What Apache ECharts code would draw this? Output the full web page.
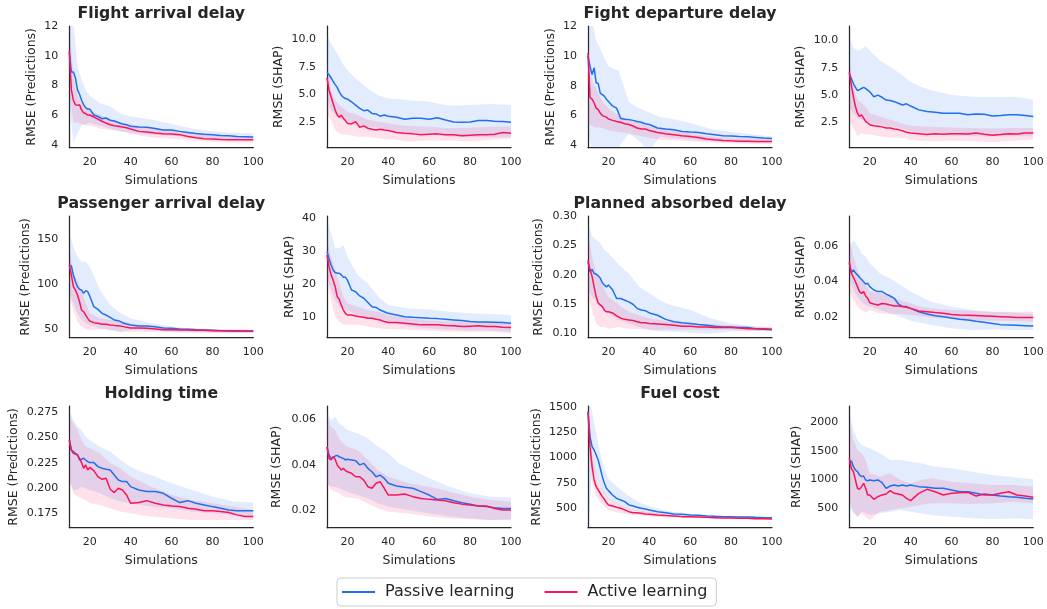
<!DOCTYPE html>
<html><head><meta charset="utf-8">
<script src="https://cdn.jsdelivr.net/npm/echarts@6/dist/echarts.min.js"></script>
<style>html,body{margin:0;padding:0;background:#fff}#c{width:1047px;height:609px}</style>
</head><body><div id="c"></div>
<script>
// ---------- data ----------
const sims = [10,11,12,13,14,15,16,17,18,19,20,22,24,26,28,30,32,34,36,38,40,44,48,52,56,60,64,68,72,76,80,84,88,92,96,100];
const bandSims = [10,12,14,16,18,20,25,30,35,40,45,50,60,70,80,90,100];
const xTicks = [20,40,60,80,100];

// Flight arrival delay - predictions
const faPredPassive = [10.3,8.9,8.9,8.5,7.7,7.4,7.0,6.7,6.5,6.4,6.4,6.0,5.9,5.75,5.8,5.65,5.6,5.5,5.4,5.35,5.25,5.2,5.17,5.1,5.0,5.0,4.9,4.83,4.75,4.7,4.68,4.63,4.6,4.56,4.54,4.52];
const faPredActive = [10.3,7.7,7.0,6.7,6.65,6.7,6.35,6.15,6.1,6.0,6.0,5.87,5.73,5.58,5.46,5.35,5.28,5.24,5.2,5.15,5.06,4.9,4.86,4.79,4.74,4.72,4.68,4.56,4.47,4.4,4.38,4.35,4.34,4.33,4.33,4.33];
const faPredPassiveHi = [13,12.2,9.3,8.4,7.7,7.3,6.8,6.6,6.1,5.9,5.8,5.7,5.4,5.1,4.9,4.8,4.75];
const faPredPassiveLo = [7,4.1,4.8,5.3,5.4,5.5,5.3,5.1,4.9,4.8,4.7,4.7,4.6,4.5,4.4,4.35,4.3];
const faPredActiveHi = [12.5,8.5,7.3,6.8,6.5,6.3,6.0,5.7,5.5,5.4,5.2,5.1,5.0,4.8,4.6,4.55,4.5];
const faPredActiveLo = [7.5,5.5,5.5,5.4,5.3,5.3,5.1,5.0,4.9,4.75,4.6,4.5,4.4,4.3,4.2,4.15,4.15];

// Flight arrival delay - SHAP
const faShapPassive = [7.0,6.8,6.5,6.2,5.9,5.65,5.25,4.95,4.75,4.65,4.6,4.35,4.05,3.75,3.55,3.6,3.3,3.25,3.05,3.15,3.05,2.95,2.77,2.86,2.86,2.77,2.9,2.7,2.53,2.5,2.53,2.65,2.65,2.6,2.56,2.5];
const faShapActive = [6.5,5.4,4.8,4.2,3.6,3.15,2.95,3.15,2.86,2.65,2.4,2.35,2.56,2.05,2.17,1.96,1.87,1.8,1.87,1.8,1.75,1.57,1.5,1.45,1.36,1.42,1.45,1.36,1.36,1.27,1.33,1.36,1.36,1.42,1.57,1.5];
const faShapPassiveHi = [10.4,9.6,9.0,8.4,7.7,7.2,6.3,5.55,4.95,4.65,4.6,4.5,4.35,4.0,4.05,4.15,4.05];
const faShapPassiveLo = [4.5,3.6,3.15,2.86,2.7,2.56,2.4,2.1,1.96,1.8,1.66,1.5,1.36,1.2,1.15,1.15,1.15];
const faShapActiveHi = [8.1,5.4,4.5,4.05,3.75,3.45,3.15,2.7,2.56,2.4,2.26,2.17,2.1,1.96,2.0,2.1,2.1];
const faShapActiveLo = [3.3,2.7,1.8,1.5,1.36,1.36,1.2,1.2,1.06,0.97,0.9,0.76,0.85,0.85,0.76,0.9,1.06];

// Flight departure delay - predictions
const fdPredPassive = [10.0,9.3,8.75,9.2,8.2,8.15,7.5,7.4,7.3,7.1,6.95,6.65,6.5,5.8,5.75,5.73,5.68,5.6,5.55,5.45,5.4,5.17,5.1,5.05,4.94,4.9,4.87,4.78,4.72,4.65,4.63,4.6,4.58,4.54,4.5,4.47];
const fdPredActive = [10.2,7.2,7.1,6.85,6.5,6.4,6.17,6.0,5.95,5.9,5.77,5.68,5.6,5.55,5.45,5.4,5.3,5.17,5.1,5.1,5.0,4.87,4.78,4.72,4.65,4.6,4.54,4.43,4.38,4.34,4.31,4.29,4.29,4.27,4.27,4.27];
const fdPredPassiveHi = [13,12.5,11,10.5,9.8,9.3,9.0,6.9,6.5,6.2,5.9,5.8,5.5,5.1,4.9,4.75,4.6];
const fdPredPassiveLo = [5,3.5,3.5,3.6,3.8,3.8,3.9,4.8,4.3,3.6,4.6,4.5,4.4,4.3,4.25,4.2,4.2];
const fdPredActiveHi = [10.5,8.3,7.8,7.2,6.8,6.5,6.0,5.7,5.5,5.3,5.1,5.0,4.8,4.6,4.5,4.45,4.4];
const fdPredActiveLo = [5.5,5.3,5.2,5.2,5.1,5.0,4.9,4.8,4.65,4.5,4.4,4.35,4.3,4.2,4.15,4.1,4.1];

// Flight departure delay - SHAP
const fdShapPassive = [6.95,6.5,6.05,5.7,5.4,5.5,5.6,5.7,5.6,5.45,5.3,4.85,5.0,4.8,4.55,4.5,4.4,4.25,4.1,4.2,4.0,3.65,3.5,3.43,3.35,3.35,3.35,3.2,3.28,3.25,3.1,3.13,3.2,3.2,3.13,3.05];
const fdShapActive = [7.1,5.9,4.85,3.95,3.35,3.05,3.2,2.9,2.6,2.45,2.3,2.2,2.15,2.1,2.0,2.0,1.9,1.85,1.75,1.6,1.55,1.48,1.4,1.48,1.42,1.48,1.48,1.45,1.55,1.42,1.33,1.4,1.48,1.45,1.55,1.55];
const fdShapPassiveHi = [10.4,9.35,9.05,9.2,9.5,9.05,8.15,7.55,6.95,6.2,5.75,5.45,5.0,4.85,4.8,4.85,4.6];
const fdShapPassiveLo = [3.95,3.35,2.9,2.75,2.6,2.45,2.3,2.15,2.0,1.7,1.55,1.4,1.3,1.25,1.25,1.25,1.25];
const fdShapActiveHi = [8.15,5.75,4.55,4.25,3.95,3.35,3.05,2.75,2.45,2.2,2.15,2.1,2.05,2.0,1.95,2.0,2.0];
const fdShapActiveLo = [2.6,2.0,1.25,1.55,1.4,1.4,1.25,1.1,1.1,0.95,0.8,0.8,0.8,0.8,0.7,0.8,0.95];

// Passenger arrival delay - predictions
const paPredPassive = [121.5,120.4,110.4,103,97.4,94.4,93.7,90,93,91.9,87,75.2,72.2,67.8,65.9,63.3,60.4,59.6,57.4,55.9,54.8,53.7,53.7,53,51.5,51.1,50.4,50,49.6,49.3,48.9,48.5,48.1,47.8,47.8,47.8];
const paPredActive = [121.5,110.4,97.4,93.7,88.1,80.7,71.5,69.6,65.9,62.2,59.3,57.4,56.7,55.6,55.6,54.8,54.4,54.1,53.3,52.2,51.5,51.5,51.1,50.4,49.6,49.6,49.3,49.3,48.9,48.9,48.5,48.5,48.5,48.5,48.1,48.1];
const paPredPassiveHi = [156.7,141.9,130.7,125.2,125.2,119.6,93.7,77,67.8,62.2,59.6,56.7,53,51.1,50,49.3,49.3];
const paPredPassiveLo = [90,78.9,67.8,60.4,56.7,54.8,51.1,49.3,47.4,49.3,50,49.3,47.4,46.7,46.3,46.3,46.3];
const paPredActiveHi = [141.9,112.2,104.8,93.7,78.9,67.8,62.2,60.4,59.3,56.7,54.8,53,51.9,51.1,50.4,50,50];
const paPredActiveLo = [86.3,71.5,58.5,53,50,49.3,50,49.3,47.4,47.4,47.4,47,46.7,46.3,46.3,46.3,46.3];

// Passenger arrival delay - SHAP
const paShapPassive = [30,27.9,25.9,24.4,23.6,23.4,23.4,22.9,22.2,22.2,21.3,18.3,17.8,16.5,15.8,14.5,13.2,13.0,12.2,11.7,11.2,10.7,10.2,10.0,9.9,9.7,9.6,9.4,9.2,9.0,8.7,8.6,8.6,8.5,8.4,8.2];
const paShapActive = [29,25.4,22.9,21.3,19.3,16.3,15.5,13.7,12.2,11.2,10.7,10.7,10.4,10.2,10.0,9.7,9.7,9.4,9.2,8.7,8.4,8.4,8.2,8.0,7.7,7.7,7.7,7.5,7.4,7.2,7.3,7.4,7.2,7.2,7.0,6.9];
const paShapPassiveHi = [39.6,35.5,31,31,32,28.4,22.9,20.3,16.3,13.7,13.2,12.7,12.4,11.7,11.2,11.0,10.7];
const paShapPassiveLo = [22.4,18.3,15.3,13.7,13.2,12.2,10.7,9.7,9.2,8.2,7.7,7.2,6.7,6.2,6.0,6.0,5.6];
const paShapActiveHi = [33.5,28.4,24.4,20.3,16.3,14.3,13.2,12.2,11.7,10.7,10.2,9.7,9.0,8.7,8.7,8.4,8.4];
const paShapActiveLo = [21.3,15.3,10.2,8.7,7.7,7.7,7.7,7.2,6.7,6.4,6.4,6.2,6.0,5.6,5.6,5.6,5.3];

// Planned absorbed delay - predictions
const padPredPassive = [0.222,0.205,0.209,0.202,0.201,0.198,0.194,0.186,0.182,0.179,0.182,0.174,0.159,0.159,0.156,0.153,0.149,0.142,0.139,0.138,0.134,0.130,0.123,0.119,0.117,0.116,0.114,0.113,0.111,0.110,0.110,0.109,0.109,0.107,0.106,0.105];
const padPredActive = [0.225,0.208,0.197,0.179,0.162,0.151,0.148,0.145,0.139,0.136,0.136,0.134,0.129,0.125,0.123,0.122,0.121,0.119,0.117,0.117,0.116,0.115,0.114,0.113,0.111,0.111,0.110,0.110,0.109,0.109,0.109,0.108,0.107,0.107,0.107,0.106];
const padPredPassiveHi = [0.289,0.266,0.260,0.254,0.243,0.237,0.217,0.202,0.179,0.168,0.156,0.148,0.139,0.125,0.116,0.111,0.109];
const padPredPassiveLo = [0.174,0.162,0.156,0.148,0.142,0.133,0.122,0.116,0.110,0.105,0.102,0.102,0.100,0.098,0.102,0.103,0.103];
const padPredActiveHi = [0.271,0.231,0.202,0.191,0.174,0.162,0.148,0.136,0.130,0.125,0.122,0.119,0.116,0.115,0.113,0.111,0.110];
const padPredActiveLo = [0.162,0.139,0.116,0.110,0.110,0.107,0.110,0.107,0.106,0.105,0.105,0.105,0.105,0.105,0.105,0.103,0.103];

// Planned absorbed delay - SHAP
const padShapPassive = [0.0502,0.0449,0.0464,0.0449,0.0436,0.0423,0.0411,0.0398,0.0385,0.0389,0.037,0.0351,0.0342,0.0342,0.0328,0.0317,0.0304,0.0272,0.0257,0.0257,0.0247,0.0228,0.0215,0.0205,0.02,0.0192,0.0185,0.0181,0.0174,0.0168,0.0162,0.0155,0.0153,0.0151,0.0149,0.0147];
const padShapActive = [0.0511,0.0445,0.0423,0.0398,0.037,0.0342,0.0332,0.0342,0.0317,0.0304,0.0279,0.0272,0.0266,0.0275,0.0272,0.0266,0.026,0.026,0.0257,0.0253,0.0247,0.0232,0.0228,0.0223,0.0219,0.0212,0.0209,0.0208,0.0206,0.0204,0.0202,0.02,0.0198,0.0196,0.0196,0.0196];
const padShapPassiveHi = [0.0596,0.0634,0.0606,0.0558,0.054,0.0502,0.0445,0.0417,0.0379,0.0342,0.0313,0.0285,0.0257,0.0238,0.0228,0.0223,0.0215];
const padShapPassiveLo = [0.0426,0.0351,0.0313,0.0285,0.0266,0.0257,0.0238,0.0219,0.02,0.0177,0.0166,0.0153,0.0134,0.0125,0.0128,0.0125,0.0125];
const padShapActiveHi = [0.0653,0.054,0.0464,0.0408,0.0379,0.0342,0.0332,0.0313,0.0294,0.0275,0.0257,0.0247,0.0238,0.0234,0.0228,0.0228,0.0228];
const padShapActiveLo = [0.0351,0.0294,0.0257,0.0238,0.0223,0.0238,0.0219,0.0215,0.0215,0.0209,0.0204,0.0196,0.0191,0.0181,0.0177,0.0175,0.0172];

// Holding time - predictions
const htPredPassive = [0.2476,0.2377,0.2361,0.2344,0.2328,0.2278,0.2285,0.2295,0.2278,0.2262,0.2252,0.2252,0.2212,0.2196,0.2186,0.2179,0.213,0.208,0.2064,0.2064,0.2014,0.1981,0.1965,0.1965,0.1948,0.1899,0.1856,0.1875,0.1849,0.1833,0.1816,0.18,0.1783,0.1776,0.1776,0.1776];
const htPredActive = [0.2476,0.2377,0.2344,0.2337,0.2328,0.2295,0.2252,0.2196,0.2229,0.2179,0.2205,0.2172,0.2113,0.2087,0.2097,0.1988,0.1955,0.1998,0.1981,0.1932,0.1849,0.1856,0.1875,0.1849,0.1833,0.1823,0.1816,0.18,0.179,0.1776,0.1776,0.1767,0.1757,0.1734,0.1717,0.1717];
const htPredPassiveHi = [0.2773,0.2674,0.2608,0.2575,0.2509,0.2476,0.241,0.2361,0.2278,0.2212,0.2163,0.213,0.2047,0.1981,0.1915,0.1866,0.1856];
const htPredPassiveLo = [0.208,0.1981,0.1981,0.2014,0.1998,0.1981,0.1948,0.1899,0.1866,0.1849,0.1833,0.1816,0.18,0.1767,0.175,0.1734,0.1717];
const htPredActiveHi = [0.2707,0.2641,0.2575,0.2476,0.241,0.2394,0.2344,0.2245,0.2196,0.2113,0.2064,0.2014,0.1932,0.1882,0.1849,0.1816,0.1783];
const htPredActiveLo = [0.208,0.1948,0.1915,0.1899,0.1882,0.1849,0.1833,0.18,0.1767,0.175,0.1734,0.1717,0.17,0.1684,0.1684,0.1684,0.1684];

// Holding time - SHAP
const htShapPassive = [0.0479,0.0443,0.0428,0.0432,0.0438,0.0441,0.0435,0.0431,0.0428,0.0421,0.0424,0.0421,0.0418,0.0399,0.0406,0.0384,0.0369,0.0347,0.0354,0.034,0.0318,0.0306,0.03,0.0296,0.0281,0.0266,0.0247,0.0251,0.0241,0.0232,0.0226,0.0218,0.0215,0.021,0.0207,0.0207];
const htShapActive = [0.0479,0.0428,0.0421,0.0435,0.0424,0.0399,0.0388,0.0376,0.0384,0.0374,0.0369,0.0362,0.0347,0.0347,0.0332,0.0303,0.0296,0.0318,0.0325,0.0296,0.0266,0.0266,0.0271,0.0259,0.0251,0.0247,0.0244,0.0241,0.0232,0.0226,0.0222,0.0218,0.0218,0.0207,0.02,0.02];
const htShapPassiveHi = [0.0634,0.0597,0.0612,0.0582,0.0568,0.0553,0.0538,0.0516,0.0479,0.045,0.0406,0.0384,0.034,0.0303,0.0274,0.0259,0.0256];
const htShapPassiveLo = [0.0318,0.0303,0.0303,0.0296,0.0288,0.0281,0.0266,0.0251,0.0229,0.0215,0.0207,0.02,0.0185,0.0171,0.0163,0.0156,0.0159];
const htShapActiveHi = [0.0612,0.0568,0.0553,0.0516,0.0494,0.0479,0.0465,0.0421,0.0376,0.0347,0.0332,0.0318,0.0303,0.0281,0.0259,0.0244,0.0237];
const htShapActiveLo = [0.0318,0.0288,0.0281,0.0274,0.0259,0.0256,0.0251,0.0229,0.0207,0.0193,0.0188,0.0185,0.0171,0.0163,0.0159,0.0156,0.0156];

// Fuel cost - predictions
const fcPredPassive = [1451,1205,1107,1074,1025,976,894,812,746,697,674,631,598,582,566,533,523,510,500,493,484,467,457,444,441,434,431,425,421,418,418,415,415,411,408,408];
const fcPredActive = [1451,1107,910,779,713,680,648,615,589,556,533,523,510,500,484,467,457,457,451,444,441,434,428,425,418,418,415,411,408,405,405,402,402,398,398,395];
const fcPredPassiveHi = [1600,1450,1238,1041,894,789,700,620,560,520,490,470,445,435,425,420,415];
const fcPredPassiveLo = [200,900,830,720,640,590,530,490,470,450,440,430,415,405,400,395,395];
const fcPredActiveHi = [1500,1050,850,730,660,600,540,500,475,460,450,440,425,415,410,405,400];
const fcPredActiveLo = [1100,750,620,560,520,480,455,440,430,420,415,410,405,400,395,390,388];

// Fuel cost - SHAP
const fcShapPassive = [1284,1331,1226,1168,1139,1081,1052,1064,994,982,994,982,994,947,849,889,907,889,907,889,907,878,866,849,849,820,790,790,761,732,732,715,703,692,674,663];
const fcShapActive = [1372,1197,1139,994,849,831,878,936,849,732,732,657,703,732,750,808,761,750,732,674,634,761,831,790,732,761,773,779,715,750,732,761,790,732,715,692];
const fcShapPassiveHi = [2214,1865,1691,1604,1575,1546,1459,1342,1342,1313,1284,1238,1197,1139,1081,1040,1006];
const fcShapPassiveLo = [529,413,355,442,413,384,413,442,471,442,413,384,355,326,308,326,308];
const fcShapActiveHi = [2040,1691,1517,1459,1342,1110,1052,1110,994,936,994,1023,965,936,907,907,878];
const fcShapActiveLo = [645,442,355,413,355,297,442,471,500,529,558,587,587,576,587,616,587];

// tick labels per panel
const yTicksFaPred = [4,6,8,10,12];
const yTicksFaShap = [2.5,5,7.5,10];
const yTicksFdPred = [4,6,8,10,12];
const yTicksFdShap = [2.5,5,7.5,10];
const yTicksPaPred = [50,100,150];
const yTicksPaShap = [10,20,30,40];
const yTicksPadPred = [0.10,0.15,0.20,0.25,0.30];
const yTicksPadShap = [0.02,0.04,0.06];
const yTicksHtPred = [0.175,0.200,0.225,0.250,0.275];
const yTicksHtShap = [0.02,0.04,0.06];
const yTicksFcPred = [500,750,1000,1250,1500];
const yTicksFcShap = [500,1000,1500,2000];

const titles = ['Flight arrival delay','Fight departure delay','Passenger arrival delay','Planned absorbed delay','Holding time','Fuel cost'];
const seriesNames = ['Passive learning','Active learning'];

// ---------- panel config ----------
const PRED = 'RMSE (Predictions)', SHAP = 'RMSE (SHAP)';
const panels = [
  {yName:PRED, p:faPredPassive, a:faPredActive, pHi:faPredPassiveHi, pLo:faPredPassiveLo, aHi:faPredActiveHi, aLo:faPredActiveLo, ticks:yTicksFaPred, min:3.8, max:12, dec:0, gap:31},
  {yName:SHAP, p:faShapPassive, a:faShapActive, pHi:faShapPassiveHi, pLo:faShapPassiveLo, aHi:faShapActiveHi, aLo:faShapActiveLo, ticks:yTicksFaShap, min:0.2, max:11.2, dec:1, gap:41.5},
  {yName:PRED, p:fdPredPassive, a:fdPredActive, pHi:fdPredPassiveHi, pLo:fdPredPassiveLo, aHi:fdPredActiveHi, aLo:fdPredActiveLo, ticks:yTicksFdPred, min:3.85, max:12, dec:0, gap:30.5},
  {yName:SHAP, p:fdShapPassive, a:fdShapActive, pHi:fdShapPassiveHi, pLo:fdShapPassiveLo, aHi:fdShapActiveHi, aLo:fdShapActiveLo, ticks:yTicksFdShap, min:0.2, max:11.3, dec:1, gap:42.5},
  {yName:PRED, p:paPredPassive, a:paPredActive, pHi:paPredPassiveHi, pLo:paPredPassiveLo, aHi:paPredActiveHi, aLo:paPredActiveLo, ticks:yTicksPaPred, min:40.7, max:176, dec:0, gap:37.5},
  {yName:SHAP, p:paShapPassive, a:paShapActive, pHi:paShapPassiveHi, pLo:paShapPassiveLo, aHi:paShapActiveHi, aLo:paShapActiveLo, ticks:yTicksPaShap, min:3.8, max:40.8, dec:0, gap:31},
  {yName:PRED, p:padPredPassive, a:padPredActive, pHi:padPredPassiveHi, pLo:padPredPassiveLo, aHi:padPredActiveHi, aLo:padPredActiveLo, ticks:yTicksPadPred, min:0.0914, max:0.301, dec:2, gap:42.5},
  {yName:SHAP, p:padShapPassive, a:padShapActive, pHi:padShapPassiveHi, pLo:padShapPassiveLo, aHi:padShapActiveHi, aLo:padShapActiveLo, ticks:yTicksPadShap, min:0.0081, max:0.077, dec:2, gap:42.5},
  {yName:PRED, p:htPredPassive, a:htPredActive, pHi:htPredPassiveHi, pLo:htPredPassiveLo, aHi:htPredActiveHi, aLo:htPredActiveLo, ticks:yTicksHtPred, min:0.1607, max:0.2813, dec:3, gap:49.5},
  {yName:SHAP, p:htShapPassive, a:htShapActive, pHi:htShapPassiveHi, pLo:htShapPassiveLo, aHi:htShapActiveHi, aLo:htShapActiveLo, ticks:yTicksHtShap, min:0.0122, max:0.0659, dec:2, gap:43.5},
  {yName:PRED, p:fcPredPassive, a:fcPredActive, pHi:fcPredPassiveHi, pLo:fcPredPassiveLo, aHi:fcPredActiveHi, aLo:fcPredActiveLo, ticks:yTicksFcPred, min:309, max:1507, dec:0, gap:45},
  {yName:SHAP, p:fcShapPassive, a:fcShapActive, pHi:fcShapPassiveHi, pLo:fcShapPassiveLo, aHi:fcShapActiveHi, aLo:fcShapActiveLo, ticks:yTicksFcShap, min:162, max:2284, dec:0, gap:46}
];

const BLUE = '#1f6fee', PINK = '#fa145a', INK = '#262626', FONT = 'DejaVu Sans';
const BLUE_BAND = 'rgba(31,111,238,0.13)', PINK_BAND = 'rgba(250,20,90,0.13)';
const colLeft = [69.3, 327, 588, 849.3];
const rowTop = [26, 216, 406];
const W = 184, H = 121.7;

const grids = [], xAxes = [], yAxes = [], series = [];
const pairs = (xs, ys) => xs.map((x, i) => [x, ys[i]]);

function bandSeries(i, lo, hi, fill) {
  return {
    type: 'custom', xAxisIndex: i, yAxisIndex: i, silent: true, z: 1, clip: true,
    data: [[bandSims[0], lo[0]]],
    renderItem: (params, api) => {
      const pts = [];
      for (let k = 0; k < bandSims.length; k++) pts.push(api.coord([bandSims[k], hi[k]]));
      for (let k = bandSims.length - 1; k >= 0; k--) pts.push(api.coord([bandSims[k], lo[k]]));
      const cs = params.coordSys;
      return {
        type: 'polygon', shape: {points: pts}, style: {fill: fill, stroke: null},
        clipPath: {type: 'rect', shape: {x: cs.x, y: cs.y, width: cs.width, height: cs.height}}
      };
    }
  };
}

panels.forEach((pn, i) => {
  const col = i % 4, row = Math.floor(i / 4);
  grids.push({left: colLeft[col], top: rowTop[row], width: W, height: H, containLabel: false});
  xAxes.push({
    type: 'value', gridIndex: i, min: 10, max: 100, interval: 10,
    name: 'Simulations', nameLocation: 'middle', nameGap: 27,
    nameTextStyle: {color: INK, fontSize: 12.5, fontFamily: FONT},
    axisLine: {show: true, onZero: false, lineStyle: {color: INK, width: 1.25}},
    axisTick: {show: false}, splitLine: {show: false},
    axisLabel: {customValues: xTicks, margin: 9, color: INK, fontSize: 11, fontFamily: FONT}
  });
  yAxes.push({
    type: 'value', gridIndex: i, min: pn.min, max: pn.max,
    name: pn.yName, nameLocation: 'middle', nameGap: pn.gap, nameRotate: 90,
    nameTextStyle: {color: INK, fontSize: 12.5, fontFamily: FONT},
    axisLine: {show: true, onZero: false, lineStyle: {color: INK, width: 1.25}},
    axisTick: {show: false}, splitLine: {show: false},
    axisLabel: {customValues: pn.ticks, margin: 11, color: INK, fontSize: 11, fontFamily: FONT,
      formatter: v => Number(v).toFixed(pn.dec)}
  });
  series.push(bandSeries(i, pn.pLo, pn.pHi, BLUE_BAND));
  series.push(bandSeries(i, pn.aLo, pn.aHi, PINK_BAND));
  series.push({name: seriesNames[0], type: 'line', xAxisIndex: i, yAxisIndex: i, data: pairs(sims, pn.p),
    symbol: 'none', color: BLUE, lineStyle: {color: BLUE, width: 1.5}, z: 3});
  series.push({name: seriesNames[1], type: 'line', xAxisIndex: i, yAxisIndex: i, data: pairs(sims, pn.a),
    symbol: 'none', color: PINK, lineStyle: {color: PINK, width: 1.5}, z: 4});
});

const titlePos = [[161.3, 13.5], [680, 13.5], [161.3, 203.5], [680, 203.5], [161.3, 393.5], [680, 393.5]];
const graphic = titles.map((t, k) => ({
  type: 'text', x: titlePos[k][0], y: titlePos[k][1], silent: true,
  style: {text: t, fill: INK, font: 'bold 15.7px "DejaVu Sans"', align: 'center', verticalAlign: 'middle',
    textAlign: 'center', textVerticalAlign: 'middle'}
}));

const chart = echarts.init(document.getElementById('c'), null, {renderer: 'canvas'});
chart.setOption({
  animation: false,
  backgroundColor: '#fff',
  grid: grids, xAxis: xAxes, yAxis: yAxes, series: series, graphic: graphic,
  legend: {
    data: seriesNames, left: 337, top: 578, orient: 'horizontal',
    icon: 'rect', itemWidth: 33, itemHeight: 2, itemGap: 30,
    padding: [6, 9, 6, 5], borderColor: '#cccccc', borderWidth: 1, borderRadius: 4,
    backgroundColor: '#fff',
    textStyle: {color: INK, fontSize: 16, fontFamily: FONT, padding: [0, 0, 0, 5]}
  }
});
</script></body></html>
